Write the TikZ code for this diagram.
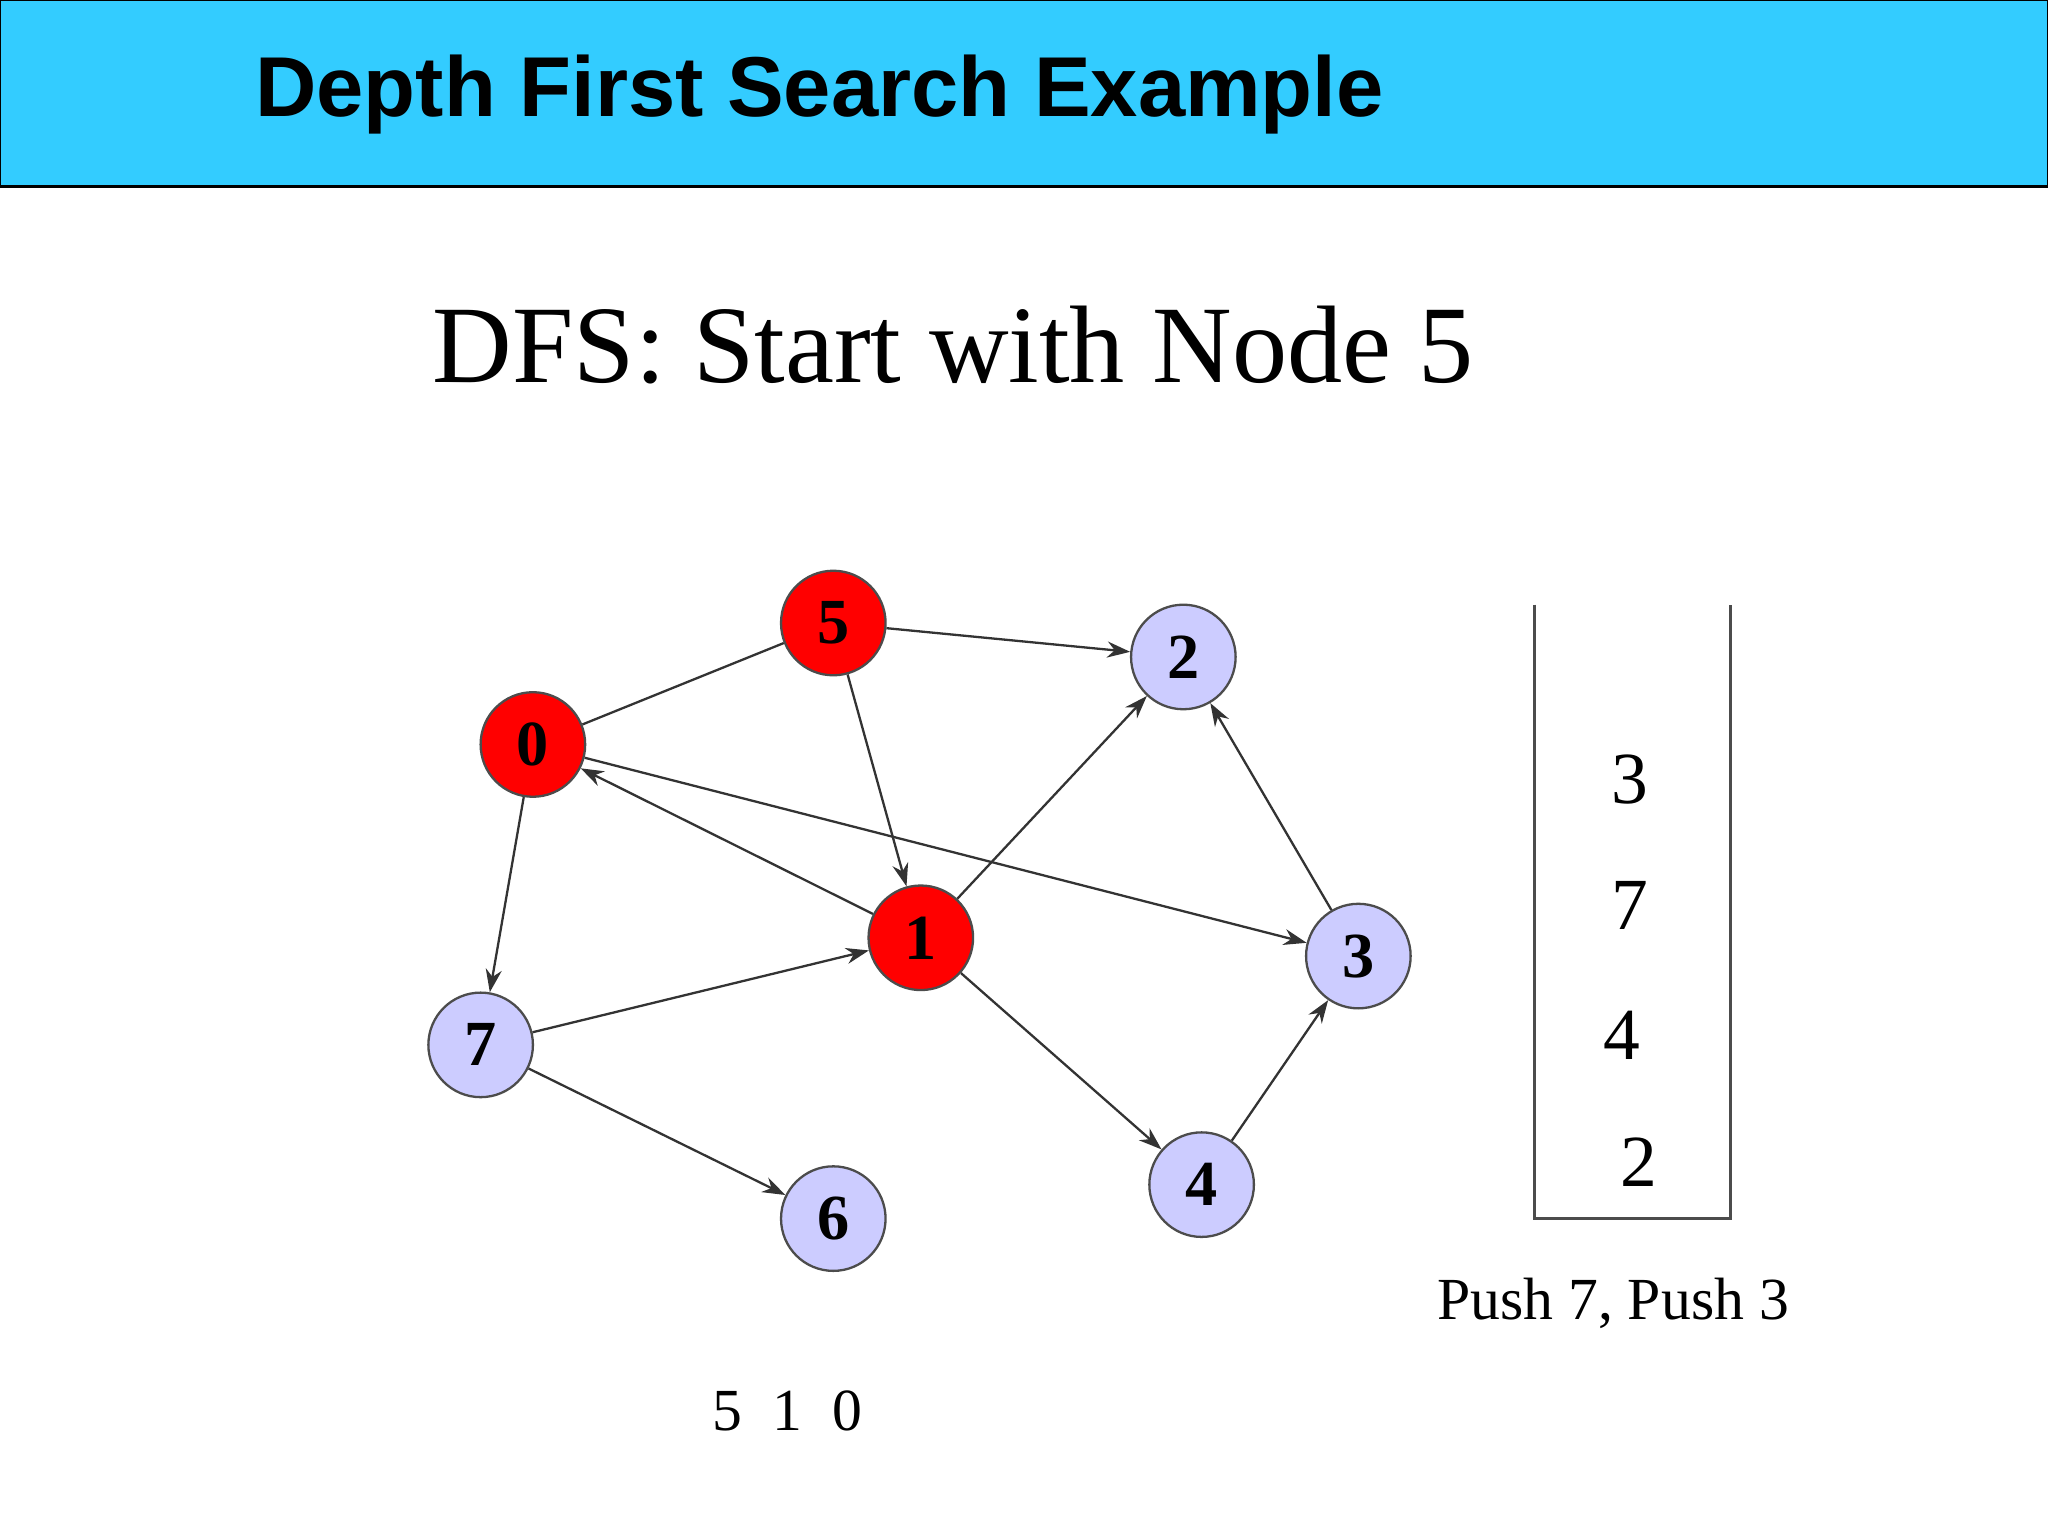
\documentclass[tikz,border=0pt]{standalone}
\usepackage{fontspec}
\setmainfont{Liberation Serif}
\newfontfamily\hsans{Liberation Sans}
\usetikzlibrary{arrows.meta}
\begin{document}
\begin{tikzpicture}[x=0.01cm,y=-0.01cm,
 vtx/.style={circle,draw=black!70,line width=0.5pt,minimum size=0.8cm,inner sep=0pt,font=\fontsize{14}{14}\selectfont\bfseries},
 vis/.style={vtx,fill=red},
 unv/.style={vtx,fill={rgb,255:red,204;green,204;blue,255}},
 edge/.style={-{Stealth[length=5pt,width=3.5pt]},line width=0.5pt,black!80},
 lbl/.style={font=\fontsize{16}{16}\selectfont}]
\useasboundingbox (0,0) rectangle (1568,1176);
\fill[white] (0,0) rectangle (1568,1176);
\draw[fill={rgb,255:red,51;green,204;blue,255},line width=0.6pt] (0,0) rectangle (1568,143);
\node[anchor=west,font=\hsans\bfseries\fontsize{18.5}{18.5}\selectfont] (title) at (183,72) {Depth First Search Example};
\node[font=\fontsize{24}{24}\selectfont] (sub) at (730,264) {DFS: Start with Node 5};
\node[vis] (n5) at (638,477) {5};
\node[unv] (n2) at (906,503) {2};
\node[vis] (n0) at (408,570) {0};
\node[vis] (n1) at (705,718) {1};
\node[unv] (n3) at (1040,732) {3};
\node[unv] (n7) at (368,800) {7};
\node[unv] (n4) at (920,907) {4};
\node[unv] (n6) at (638,933) {6};
\draw[line width=0.5pt,black!80] (n0) -- (n5);
\draw[edge] (n5) -- (n2);
\draw[edge] (n5) -- (n1);
\draw[edge] (n1) -- (n0);
\draw[edge] (n0) -- (n3);
\draw[edge] (n0) -- (n7);
\draw[edge] (n7) -- (n1);
\draw[edge] (n7) -- (n6);
\draw[edge] (n1) -- (n2);
\draw[edge] (n1) -- (n4);
\draw[edge] (n4) -- (n3);
\draw[edge] (n3) -- (n2);
\coordinate (s1) at (1175,463);
\coordinate (s2) at (1175,933);
\coordinate (s3) at (1325,933);
\coordinate (s4) at (1325,463);
\draw[line width=0.6pt,black!70] (s1) -- (s2) -- (s3) -- (s4);
\node[lbl] (k3) at (1248,597) {3};
\node[lbl] (k7) at (1248,693) {7};
\node[lbl] (k4) at (1242,793) {4};
\node[lbl] (k2) at (1255,890) {2};
\node[font=\fontsize{13}{13}\selectfont] (push) at (1235,998) {Push 7, Push 3};
\node[font=\fontsize{13}{13}\selectfont] (seq) at (603,1080) {5\ \ 1\ \ 0};
\end{tikzpicture}
\end{document}
